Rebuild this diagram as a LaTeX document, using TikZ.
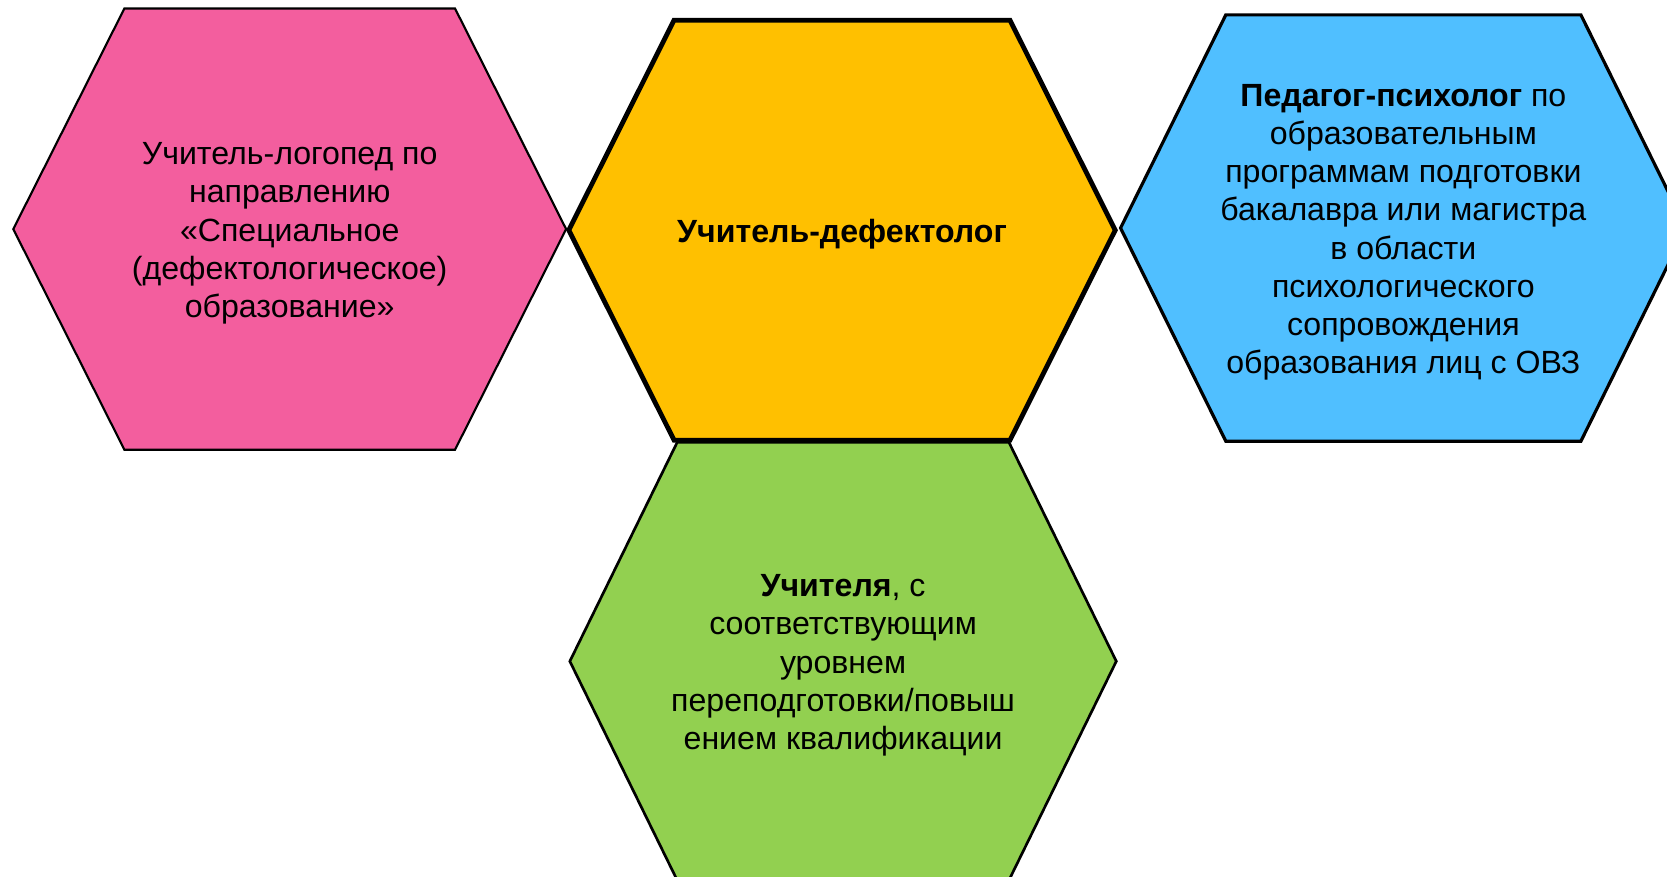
\documentclass[tikz,border=0pt]{standalone}
\usepackage{fontspec}
\setmainfont{Liberation Sans}
\usepackage{tikz}
\usetikzlibrary{calc}

\definecolor{hexpink}{RGB}{243,94,158}
\definecolor{hexyellow}{RGB}{255,192,0}
\definecolor{hexblue}{RGB}{80,191,255}
\definecolor{hexgreen}{RGB}{146,208,80}

\tikzset{
  celltext/.style={align=center, inner sep=0pt, yshift=-4pt,
    font=\fontsize{30.2}{36}\selectfont}
}

\begin{document}
\begin{tikzpicture}[x=1pt,y=1pt]
              \useasboundingbox (0,0) rectangle (1568,-824);
              \clip (0,0) rectangle (1568,-824);
              \fill[white] (0,0) rectangle (1568,-824);

              % hexagons: centre x / centre y / half width / half top / half height / colour / line
              \foreach \cx/\cy/\w/\t/\h/\c/\lw in {%
                272.5/-215.5/260/155.5/207.5/hexpink/2,
                793/-622/257/156/206/hexgreen/2.5,
                1320/-214.5/266/167/200.5/hexblue/3,
                792/-216.5/257/158/197.5/hexyellow/4.5} {%
                \draw[fill=\c, line width=\lw, line join=miter]
                  ({\cx-\w},\cy) -- ({\cx-\t},{\cy+\h}) -- ({\cx+\t},{\cy+\h})
                  -- ({\cx+\w},\cy) -- ({\cx+\t},{\cy-\h}) -- ({\cx-\t},{\cy-\h}) -- cycle;
              }

              \node[celltext] (logoped) at (272.5,-215.5)
                {Учитель-логопед по\\направлению\\«Специальное\\(дефектологическое)\\образование»};
              \node[celltext] (defektolog) at (792,-216.5)
                {\textbf{Учитель-дефектолог}};
              \node[celltext] (psiholog) at (1320,-214.5)
                {\textbf{Педагог-психолог} по\\образовательным\\программам подготовки\\бакалавра или магистра\\в области\\психологического\\сопровождения\\образования лиц с ОВЗ};
              \node[celltext] (uchitelya) at (793,-622)
                {\textbf{Учителя}, с\\соответствующим\\уровнем\\переподготовки/повыш\\ением квалификации};
            \end{tikzpicture}
\end{document}
